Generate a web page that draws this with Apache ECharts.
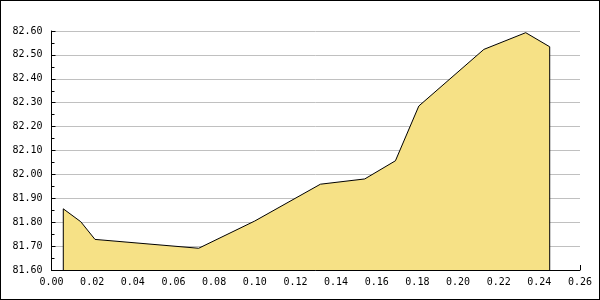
<!DOCTYPE html>
<html><head><meta charset="utf-8">
<script src="https://cdn.jsdelivr.net/npm/echarts@6/dist/echarts.min.js"></script>
<style>
html,body{margin:0;padding:0;background:#fff;}
#c{width:600px;height:300px;box-sizing:border-box;border:1px solid #000;}
</style></head><body>
<div id="c"></div>
<script>
const xValues = [0.0058, 0.0144, 0.0214, 0.0724, 0.100, 0.1323, 0.1541, 0.1692, 0.1807, 0.2127, 0.2333, 0.2451];
const yValues = [81.856, 81.802, 81.728, 81.691, 81.805, 81.959, 81.981, 82.057, 82.286, 82.523, 82.593, 82.534];
const xTicks = {min: 0, max: 0.26, step: 0.02};
const yTicks = {min: 81.6, max: 82.6, step: 0.1, minorStep: 0.05};

const chart = echarts.init(document.getElementById('c'), null, {renderer: 'canvas'});
const font = 'DejaVu Sans Mono';
chart.setOption({
  animation: false,
  grid: {left: 50.5, right: 19, top: 30, bottom: 29},
  xAxis: {
    type: 'value', min: xTicks.min, max: xTicks.max, interval: xTicks.step,
    axisLine: {lineStyle: {color: '#000', width: 1}},
    axisTick: {inside: true, length: 5, lineStyle: {color: '#000'}},
    axisLabel: {color: '#000', fontFamily: font, fontSize: 10, margin: 7,
      formatter: v => v.toFixed(2)},
    splitLine: {show: false}
  },
  yAxis: [{
    type: 'value', min: yTicks.min, max: yTicks.max, interval: yTicks.step,
    axisLine: {show: true, lineStyle: {color: '#000', width: 1}},
    axisTick: {show: true, inside: true, length: 4, lineStyle: {color: '#000'}},
    axisLabel: {color: '#000', fontFamily: font, fontSize: 10, margin: 9,
      formatter: v => v.toFixed(2)},
    splitLine: {show: true, lineStyle: {color: '#c0c0c0', width: 1}}
  }, {
    type: 'value', position: 'left', min: yTicks.min, max: yTicks.max, interval: yTicks.minorStep,
    axisLine: {show: false},
    axisTick: {show: true, inside: true, length: 3, lineStyle: {color: '#000'}},
    axisLabel: {show: false},
    splitLine: {show: false}
  }],
  series: [{
    type: 'line',
    data: xValues.map((x, i) => [x, yValues[i]]),
    symbol: 'none',
    lineStyle: {color: '#000', width: 1},
    areaStyle: {color: '#f6e186', opacity: 1, origin: 'start'}
  }, {
    type: 'line',
    data: [[xValues[0], yTicks.min], [xValues[0], yValues[0]]],
    symbol: 'none', lineStyle: {color: '#000', width: 1}, silent: true
  }, {
    type: 'line',
    data: [[xValues[xValues.length-1], yValues[yValues.length-1]], [xValues[xValues.length-1], yTicks.min]],
    symbol: 'none', lineStyle: {color: '#000', width: 1}, silent: true
  }]
});
</script></body></html>
